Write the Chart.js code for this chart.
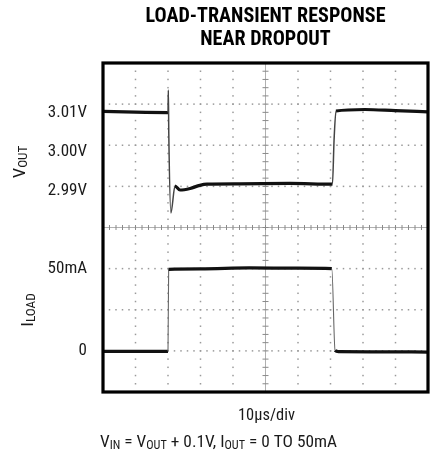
<!DOCTYPE html>
<html><head><meta charset="utf-8">
<script src="https://cdn.jsdelivr.net/npm/chart.js@4"></script>
<style>html,body{margin:0;padding:0;background:#fff;}</style>
</head><body>
<canvas id="c" width="435" height="456"></canvas>
<script>
// ---- data ----
const titleLines = ['LOAD-TRANSIENT RESPONSE', 'NEAR DROPOUT'];
const timeDivLabel = '10µs/div';
const vTime = [0, 10, 20.0, 20.1, 20.25, 20.9, 22.15, 23.7, 26.8, 29.8, 32, 42, 57.5, 70.6, 71.1, 71.7, 80.6, 90, 100];
const vOut  = [3.0104, 3.0102, 3.0101, 3.0159, 3.0043, 2.9843, 2.9912, 2.9902, 2.9906, 2.9914, 2.9917, 2.9918, 2.9919, 2.9917, 3.0031, 3.0105, 3.0109, 3.0106, 3.0103];
const iTime = [0, 20.0, 20.2, 30, 45, 60, 70.4, 71.4, 72.5, 85, 100];
const iLoad = [-0.3, -0.3, 49.6, 49.9, 50.4, 50.3, 50.0, 0.3, -0.5, -0.6, -0.7];
const vTicks = [3.01, 3.00, 2.99];
const iTicks = [0, 50];

function hasFont(name){
  const c = document.createElement('canvas').getContext('2d');
  const t = 'LOAD-TRANSIENT 3.01V mA';
  c.font = '20px monospace'; const a = c.measureText(t).width;
  c.font = '20px "' + name + '", monospace'; const b = c.measureText(t).width;
  return Math.abs(a - b) > 0.5;
}
const NARROW = ['Liberation Sans Narrow', 'Arial Narrow', 'Roboto Condensed', 'DejaVu Sans Condensed', 'Liberation Sans'].find(hasFont) || 'sans-serif';
const BOLD = ['Liberation Sans Narrow', 'Arial Narrow', 'Roboto Condensed', 'DejaVu Sans', 'Liberation Sans'].find(hasFont) || 'sans-serif';

const graticule = {
  id: 'graticule',
  beforeDatasetsDraw(chart){
    const {ctx, chartArea:a} = chart;
    const W = a.right - a.left, H = a.bottom - a.top, dx = W/10, dy = H/8;
    ctx.save();
    ctx.fillStyle = '#9a9a9a';
    for (let i = 1; i < 10; i++) {
      if (i === 5) continue;
      const x = a.left + i*dx;
      for (let k = 1; k < 40; k++) ctx.fillRect(x-0.75, a.top + k*dy/5 - 0.75, 1.5, 1.5);
    }
    for (let j = 1; j < 8; j++) {
      if (j === 4) continue;
      const y = a.top + j*dy;
      for (let k = 1; k < 50; k++) ctx.fillRect(a.left + k*dx/5 - 0.75, y - 0.75, 1.5, 1.5);
    }
    const cx = a.left + 5*dx, cy = a.top + 4*dy;
    ctx.strokeStyle = '#b0b0b0'; ctx.lineWidth = 1;
    ctx.beginPath();
    ctx.moveTo(cx, a.top); ctx.lineTo(cx, a.bottom);
    ctx.moveTo(a.left, cy); ctx.lineTo(a.right, cy);
    ctx.stroke();
    ctx.strokeStyle = '#8a8a8a';
    ctx.beginPath();
    for (let k = 1; k < 40; k++) { const y = a.top + k*dy/5; ctx.moveTo(cx-3, y); ctx.lineTo(cx+3, y); }
    for (let k = 1; k < 50; k++) { const x = a.left + k*dx/5; ctx.moveTo(x, cy-2.5); ctx.lineTo(x, cy+2.5); }
    ctx.stroke();
    ctx.restore();
  },
  afterDatasetsDraw(chart){
    const {ctx, chartArea:a} = chart;
    ctx.save();
    ctx.strokeStyle = '#000'; ctx.lineWidth = 3.2;
    ctx.strokeRect(a.left, a.top, a.right - a.left, a.bottom - a.top);
    ctx.restore();
  },
  afterDraw(chart){
    const {ctx, chartArea:a} = chart;
    const big = '17px "' + NARROW + '"', small = '12px "' + NARROW + '"';
    function runs(parts){
      let w = 0;
      for (const p of parts){ ctx.font = p[1] ? small : big; w += ctx.measureText(p[0]).width; }
      return w;
    }
    function drawRuns(parts, x, y){
      for (const p of parts){
        ctx.font = p[1] ? small : big;
        ctx.fillText(p[0], x, y + (p[1] ? 2 : 0));
        x += ctx.measureText(p[0]).width;
      }
    }
    function drawFit(parts, cx, y, targetW){
      const w = runs(parts), s = Math.max(0.75, Math.min(1.1, targetW / w));
      ctx.save(); ctx.translate(cx - w*s/2, y); ctx.scale(s, 1); drawRuns(parts, 0, 0); ctx.restore();
    }
    const cxa = (a.left + a.right)/2;
    ctx.save();
    ctx.textBaseline = 'alphabetic';
    ctx.textAlign = 'left';
    // title
    ctx.fillStyle = '#000';
    ctx.font = 'bold 21px "' + BOLD + '"';
    const ts = 240 / ctx.measureText(titleLines[0]).width;
    [22, 45].forEach((y, k) => {
      const w = ctx.measureText(titleLines[k]).width * ts;
      ctx.save(); ctx.translate(cxa - w/2, y); ctx.scale(ts, 1); ctx.fillText(titleLines[k], 0, 0); ctx.restore();
    });
    ctx.fillStyle = '#1a1a1a';
    // axis names (rotated)
    const vName = [['V',0],['OUT',1]];
    const iName = [['I',0],['LOAD',1]];
    ctx.save(); ctx.translate(25, 162); ctx.rotate(-Math.PI/2);
    drawFit(vName, 0, 0, 42); ctx.restore();
    ctx.save(); ctx.translate(33, 310); ctx.rotate(-Math.PI/2);
    drawFit(iName, 0, 0, 40); ctx.restore();
    // bottom texts
    drawFit([[timeDivLabel,0]], cxa + 1, a.bottom + 28, 57);
    const cond = [['V',0],['IN',1],[' = V',0],['OUT',1],[' + 0.1V, I',0],['OUT',1],[' = 0 TO 50mA',0]];
    drawFit(cond, 218.5, a.bottom + 55, 237);
    ctx.restore();
  }
};

function steep(c){
  return Math.abs(c.p1.y - c.p0.y) > 8 && Math.abs(c.p1.y - c.p0.y) > 3*Math.abs(c.p1.x - c.p0.x);
}

const tickFont = {family: NARROW, size: 17};
new Chart(document.getElementById('c'), {
  type: 'line',
  data: {
    datasets: [
      {label: 'VOUT', data: vTime.map((t,k) => ({x: t, y: vOut[k]})), yAxisID: 'v', xAxisID: 'x',
       borderColor: '#111', borderWidth: 3.2, pointRadius: 0, cubicInterpolationMode: 'monotone',
       segment: {borderWidth: c => steep(c) ? 1.5 : undefined, borderColor: c => steep(c) ? '#444' : undefined}},
      {label: 'ILOAD', data: iTime.map((t,k) => ({x: t, y: iLoad[k]})), yAxisID: 'i', xAxisID: 'x',
       borderColor: '#111', borderWidth: 3.2, pointRadius: 0, cubicInterpolationMode: 'monotone',
       segment: {borderWidth: c => steep(c) ? 1.1 : undefined, borderColor: c => steep(c) ? '#666' : undefined}}
    ]
  },
  options: {
    responsive: false, animation: false, events: [],
    layout: {padding: {left: 0, right: 7, top: 63, bottom: 64}},
    plugins: {legend: {display: false}, tooltip: {enabled: false}, title: {display: false}},
    scales: {
      x: {type: 'linear', min: 0, max: 100, display: false},
      i: {type: 'linear', position: 'left', stack: 'y', stackWeight: 1, min: -25, max: 75,
          afterBuildTicks: s => { s.ticks = iTicks.map(value => ({value})); },
          ticks: {callback: v => v === 0 ? '0' : v + 'mA', font: tickFont, color: '#1a1a1a', padding: 16},
          grid: {display: false, drawTicks: false}, border: {display: false},
          afterFit: s => { s.width = 103; }},
      v: {type: 'linear', position: 'left', stack: 'y', stackWeight: 1, min: 2.98056, max: 3.02285,
          afterBuildTicks: s => { s.ticks = vTicks.map(value => ({value})); },
          ticks: {callback: v => v.toFixed(2) + 'V', font: tickFont, color: '#1a1a1a', padding: 16},
          grid: {display: false, drawTicks: false}, border: {display: false},
          afterFit: s => { s.width = 103; }}
    }
  },
  plugins: [graticule]
});
</script>
</body></html>
